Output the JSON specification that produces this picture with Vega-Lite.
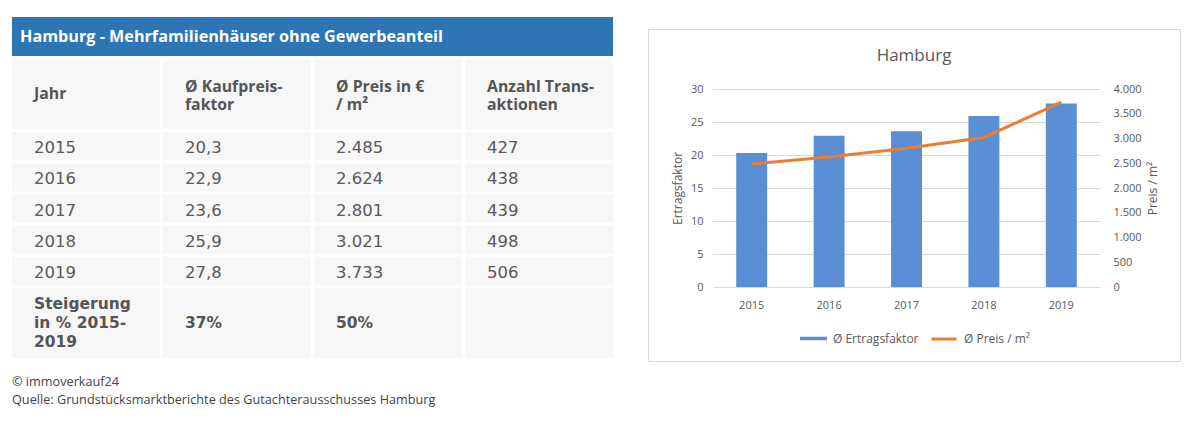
{
  "$schema": "https://vega.github.io/schema/vega-lite/v6.json",
  "background": "white",
  "padding": {"left": 12, "top": 16, "right": 0, "bottom": 0},
  "datasets": {
    "titel": [{"Spalte": "Jahr", "Text": "Hamburg - Mehrfamilienhäuser ohne Gewerbeanteil"}],
    "kopf": [
      {"Spalte": "Jahr", "Text": "Jahr", "Zeilen": 1},
      {"Spalte": "Faktor", "Text": "Ø Kaufpreis-\nfaktor", "Zeilen": 2},
      {"Spalte": "Preis", "Text": "Ø Preis in €\n/ m²", "Zeilen": 2},
      {"Spalte": "Anzahl", "Text": "Anzahl Trans-\naktionen", "Zeilen": 2}
    ],
    "daten": [
      {"Jahr": "2015", "Faktor": 20.3, "Preis": 2485, "Anzahl": 427},
      {"Jahr": "2016", "Faktor": 22.9, "Preis": 2624, "Anzahl": 438},
      {"Jahr": "2017", "Faktor": 23.6, "Preis": 2801, "Anzahl": 439},
      {"Jahr": "2018", "Faktor": 25.9, "Preis": 3021, "Anzahl": 498},
      {"Jahr": "2019", "Faktor": 27.8, "Preis": 3733, "Anzahl": 506}
    ],
    "steigerung": [
      {"Spalte": "Jahr", "Text": "Steigerung\nin % 2015-\n2019", "Zeilen": 3},
      {"Spalte": "Faktor", "Text": "37%", "Zeilen": 1},
      {"Spalte": "Preis", "Text": "50%", "Zeilen": 1},
      {"Spalte": "Anzahl", "Text": "", "Zeilen": 1}
    ]
  },
  "spacing": 34,
  "hconcat": [
    {
      "spacing": 3,
      "title": {
        "text": "© immoverkauf24",
        "subtitle": "Quelle: Grundstücksmarktberichte des Gutachterausschusses Hamburg",
        "orient": "bottom", "anchor": "start", "offset": 18,
        "font": "Open Sans", "fontSize": 12.7, "fontWeight": "normal", "color": "#444444",
        "subtitleFont": "Open Sans", "subtitleFontSize": 12.7, "subtitleColor": "#444444", "subtitlePadding": 5
      },
      "vconcat": [
        {
          "data": {"name": "titel"},
          "width": 601, "height": 39,
          "view": {"fill": "#2E75B6", "stroke": null},
          "layer": [
            {
              "mark": {"type": "rect", "color": "#2E75B6"},
              "encoding": {"x": {"field": "Spalte", "type": "nominal", "scale": {"domain": ["Jahr", "Faktor", "Preis", "Anzahl"], "paddingInner": 0.02, "paddingOuter": 0}, "axis": null}}
            },
            {
              "mark": {"type": "text", "align": "left", "dx": 8, "font": "Open Sans", "fontSize": 16.2, "fontWeight": "bold", "color": "white"},
              "encoding": {
                "x": {"field": "Spalte", "type": "nominal", "bandPosition": 0},
                "text": {"field": "Text"}
              }
            }
          ]
        },
        {
          "data": {"name": "kopf"},
          "width": 601, "height": 70,
          "layer": [
            {
              "mark": {"type": "rect", "color": "#F7F7F7"},
              "encoding": {"x": {"field": "Spalte", "type": "nominal", "scale": {"domain": ["Jahr", "Faktor", "Preis", "Anzahl"], "paddingInner": 0.02, "paddingOuter": 0}, "axis": null}}
            },
            {
              "transform": [{"filter": "datum.Zeilen == 1"}],
              "mark": {"type": "text", "align": "left", "dx": 22, "dy": 0, "font": "Open Sans", "fontSize": 15.8, "fontWeight": "bold", "color": "#555555"},
              "encoding": {
                "x": {"field": "Spalte", "type": "nominal", "bandPosition": 0},
                "text": {"field": "Text"}
              }
            },
            {
              "transform": [{"filter": "datum.Zeilen == 2"}],
              "mark": {"type": "text", "align": "left", "dx": 22, "dy": -7, "lineBreak": "\n", "lineHeight": 18, "font": "Open Sans", "fontSize": 15.8, "fontWeight": "bold", "color": "#555555"},
              "encoding": {
                "x": {"field": "Spalte", "type": "nominal", "bandPosition": 0},
                "text": {"field": "Text"}
              }
            }
          ]
        },
        {
          "data": {"name": "daten"},
          "width": 601, "height": 153,
          "encoding": {"y": {"field": "Jahr", "type": "ordinal", "scale": {"paddingInner": 0.096, "paddingOuter": 0}, "axis": null}},
          "layer": [
            {
              "transform": [{"fold": ["Jahr", "Faktor", "Preis", "Anzahl"], "as": ["Spalte", "Wert"]}],
              "mark": {"type": "rect", "color": "#F7F7F7"},
              "encoding": {"x": {"field": "Spalte", "type": "nominal", "scale": {"domain": ["Jahr", "Faktor", "Preis", "Anzahl"], "paddingInner": 0.02, "paddingOuter": 0}, "axis": null}}
            },
            {
              "mark": {"type": "text", "align": "left", "dx": 22, "dy": 2, "font": "DejaVu Sans", "fontSize": 16.5, "color": "#595959"},
              "encoding": {"x": {"datum": "Jahr", "type": "nominal", "bandPosition": 0}, "text": {"field": "Jahr"}}
            },
            {
              "mark": {"type": "text", "align": "left", "dx": 22, "dy": 2, "font": "DejaVu Sans", "fontSize": 16.5, "color": "#595959"},
              "encoding": {"x": {"datum": "Faktor", "type": "nominal", "bandPosition": 0}, "text": {"field": "Faktor", "type": "quantitative", "format": ",.1f"}}
            },
            {
              "mark": {"type": "text", "align": "left", "dx": 22, "dy": 2, "font": "DejaVu Sans", "fontSize": 16.5, "color": "#595959"},
              "encoding": {"x": {"datum": "Preis", "type": "nominal", "bandPosition": 0}, "text": {"field": "Preis", "type": "quantitative", "format": ",.0f"}}
            },
            {
              "mark": {"type": "text", "align": "left", "dx": 22, "dy": 2, "font": "DejaVu Sans", "fontSize": 16.5, "color": "#595959"},
              "encoding": {"x": {"datum": "Anzahl", "type": "nominal", "bandPosition": 0}, "text": {"field": "Anzahl", "type": "quantitative", "format": "d"}}
            }
          ]
        },
        {
          "data": {"name": "steigerung"},
          "width": 601, "height": 70,
          "layer": [
            {
              "mark": {"type": "rect", "color": "#F7F7F7"},
              "encoding": {"x": {"field": "Spalte", "type": "nominal", "scale": {"domain": ["Jahr", "Faktor", "Preis", "Anzahl"], "paddingInner": 0.02, "paddingOuter": 0}, "axis": null}}
            },
            {
              "transform": [{"filter": "datum.Zeilen == 1"}],
              "mark": {"type": "text", "align": "left", "dx": 22, "dy": 0, "font": "DejaVu Sans", "fontSize": 15.5, "fontWeight": "bold", "color": "#555555"},
              "encoding": {
                "x": {"field": "Spalte", "type": "nominal", "bandPosition": 0},
                "text": {"field": "Text"}
              }
            },
            {
              "transform": [{"filter": "datum.Zeilen == 3"}],
              "mark": {"type": "text", "align": "left", "dx": 22, "dy": -19, "lineBreak": "\n", "lineHeight": 19, "font": "DejaVu Sans", "fontSize": 15.5, "fontWeight": "bold", "color": "#555555"},
              "encoding": {
                "x": {"field": "Spalte", "type": "nominal", "bandPosition": 0},
                "text": {"field": "Text"}
              }
            }
          ]
        }
      ]
    },
    {
      "spacing": 10,
      "vconcat": [
        {
          "data": {"values": [{}]},
          "width": 532, "height": 1,
          "mark": {"type": "rule", "opacity": 0},
          "encoding": {}
        },
        {
          "width": 532, "height": 332,
          "view": {"stroke": "#D9D9D9", "strokeWidth": 1},
          "title": {"text": "Hamburg", "font": "Open Sans", "fontSize": 17, "fontWeight": "normal", "color": "#595959", "anchor": "middle", "frame": "group", "baseline": "middle", "offset": -44},
          "data": {"name": "daten"},
          "resolve": {"scale": {"y": "independent"}, "axis": {"y": "independent"}},
          "layer": [
            {
              "mark": {"type": "bar"},
              "encoding": {
                "x": {"field": "Jahr", "type": "ordinal", "scale": {"range": [65, 452], "paddingInner": 0.6, "paddingOuter": 0.3},
                  "axis": {"orient": "bottom", "offset": -74, "title": null, "domain": false, "ticks": false, "tickSize": 0, "grid": false, "labelAngle": 0, "labelPadding": 12, "labelFont": "Open Sans", "labelFontSize": 11, "labelColor": "#595959"}},
                "y": {"field": "Faktor", "type": "quantitative", "scale": {"domain": [0, 30], "range": [258, 60], "nice": false},
                  "axis": {"orient": "left", "offset": -65, "values": [0, 5, 10, 15, 20, 25, 30], "grid": true, "gridColor": "#D9D9D9", "gridWidth": 1, "domain": false, "ticks": false, "tickSize": 0, "labelPadding": 10, "labelFont": "Open Sans", "labelFontSize": 11, "labelColor": "#595959",
                    "title": "Ertragsfaktor", "titlePadding": 6, "titleFont": "Open Sans", "titleFontSize": 12, "titleFontWeight": "normal", "titleColor": "#595959"}},
                "fill": {"datum": "Ø Ertragsfaktor", "type": "nominal", "scale": {"range": ["#5B8FD5"]},
                  "legend": {"orient": "none", "legendX": 788, "legendY": 308, "title": null, "symbolType": "M-1,-0.13H1V0.13H-1Z", "symbolSize": 729, "symbolStrokeWidth": 0, "labelOffset": 6, "labelFont": "Open Sans", "labelFontSize": 12, "labelColor": "#595959"}}
              }
            },
            {
              "mark": {"type": "line", "strokeWidth": 3},
              "encoding": {
                "x": {"field": "Jahr", "type": "ordinal"},
                "y": {"field": "Preis", "type": "quantitative", "scale": {"domain": [0, 4000], "range": [258, 60], "nice": false},
                  "axis": {"orient": "right", "offset": -80, "values": [0, 500, 1000, 1500, 2000, 2500, 3000, 3500, 4000], "format": ",.0f", "grid": false, "domain": false, "ticks": false, "tickSize": 0, "labelPadding": 13, "labelFont": "Open Sans", "labelFontSize": 11, "labelColor": "#595959",
                    "title": "Preis / m²", "titleAngle": 270, "titleBaseline": "top", "titlePadding": 6, "titleFont": "Open Sans", "titleFontSize": 12, "titleFontWeight": "normal", "titleColor": "#595959"}},
                "stroke": {"datum": "Ø Preis / m²", "type": "nominal", "scale": {"range": ["#ED7D31"]},
                  "legend": {"orient": "none", "legendX": 918, "legendY": 308, "title": null, "symbolType": "stroke", "symbolSize": 625, "symbolStrokeWidth": 3, "labelOffset": 6, "labelFont": "Open Sans", "labelFontSize": 12, "labelColor": "#595959"}}
              }
            }
          ]
        }
      ]
    }
  ],
  "config": {
    "view": {"stroke": null},
    "locale": {"number": {"decimal": ",", "thousands": ".", "grouping": [3], "currency": ["", " €"]}}
  }
}
